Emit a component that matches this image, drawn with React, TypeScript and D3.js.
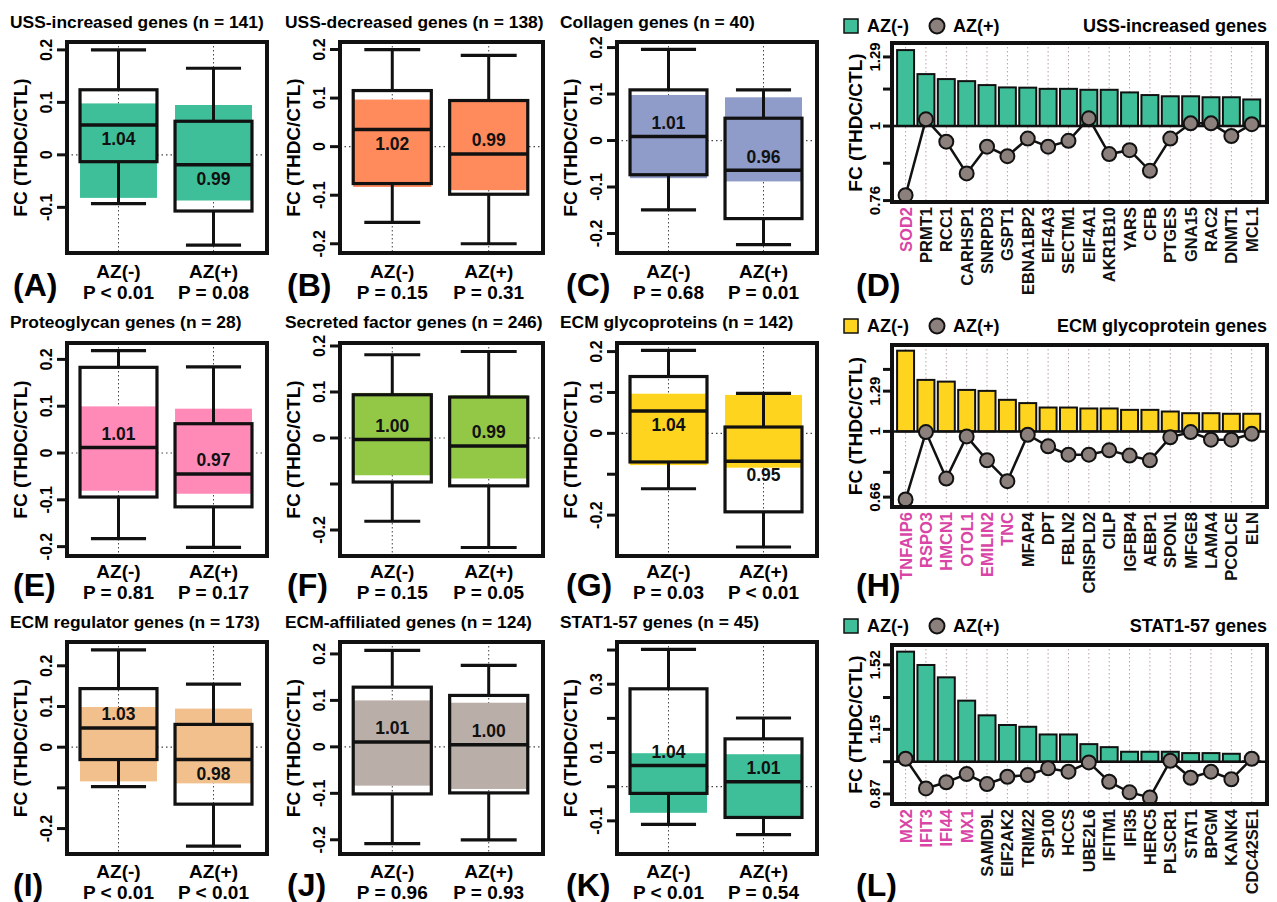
import React from "react";
import * as d3 from "d3";

const FONT = "'Liberation Sans', Arial, Helvetica, sans-serif";
const W = 1277;
const H = 902;

// ---------------- Box-plot panels ----------------
const groupLabels = ["AZ(-)", "AZ(+)"];
const boxLetters = ["A", "B", "C", "E", "F", "G", "I", "J", "K"];
const boxTitles = [
  "USS-increased genes (n = 141)",
  "USS-decreased genes (n = 138)",
  "Collagen genes (n = 40)",
  "Proteoglycan genes (n = 28)",
  "Secreted factor genes (n = 246)",
  "ECM glycoproteins (n = 142)",
  "ECM regulator genes (n = 173)",
  "ECM-affiliated genes (n = 124)",
  "STAT1-57 genes (n = 45)",
];
const boxColors = [
  "#3fbf99", "#ff8a5c", "#8f9bc8",
  "#ff8ab8", "#93c847", "#ffd41e",
  "#f2c08c", "#baaea8", "#3fbf99",
];
const boxYDomains = [
  [-0.187, 0.215], [-0.219, 0.2155], [-0.242, 0.212],
  [-0.22, 0.235], [-0.2565, 0.2065], [-0.3, 0.221],
  [-0.2625, 0.2585], [-0.2306, 0.2257], [-0.197, 0.4235],
];
const boxYTicks = [
  [-0.1, 0, 0.1, 0.2],
  [-0.2, -0.1, 0, 0.1, 0.2],
  [-0.2, -0.1, 0, 0.1, 0.2],
  [-0.2, -0.1, 0, 0.1, 0.2],
  [-0.2, -0.1, 0, 0.1, 0.2],
  [-0.2, -0.1, 0, 0.1, 0.2],
  [-0.2, -0.1, 0, 0.1, 0.2],
  [-0.2, -0.1, 0, 0.1, 0.2],
  [-0.1, 0, 0.1, 0.2, 0.3, 0.4],
];
const boxYTickLabels = [
  ["-0.1", "0", "0.1", "0.2"],
  ["-0.2", "-0.1", "0", "0.1", "0.2"],
  ["-0.2", "-0.1", "0", "0.1", "0.2"],
  ["-0.2", "-0.1", "0", "0.1", "0.2"],
  ["-0.2", "", "0", "0.1", "0.2"],
  ["-0.2", "", "0", "0.1", "0.2"],
  ["-0.2", "", "0", "0.1", "0.2"],
  ["-0.2", "-0.1", "0", "0.1", "0.2"],
  ["-0.1", "", "0.1", "", "0.3", ""],
];
// [lower whisker, Q1, median, Q3, upper whisker]
const statsMinus = [
  [-0.093, -0.013, 0.057, 0.124, 0.2],
  [-0.156, -0.076, 0.0354, 0.1155, 0.2],
  [-0.149, -0.0736, 0.0086, 0.109, 0.196],
  [-0.183, -0.094, 0.012, 0.183, 0.2186],
  [-0.181, -0.0957, -0.0035, 0.094, 0.181],
  [-0.1355, -0.07, 0.0547, 0.139, 0.203],
  [-0.097, -0.0304, 0.047, 0.144, 0.239],
  [-0.2084, -0.1013, 0.0107, 0.1285, 0.2077],
  [-0.11, -0.0196, 0.0618, 0.2865, 0.402],
];
const statsPlus = [
  [-0.172, -0.107, -0.019, 0.064, 0.165],
  [-0.2, -0.098, -0.015, 0.095, 0.188],
  [-0.224, -0.168, -0.064, 0.048, 0.109],
  [-0.2017, -0.115, -0.045, 0.0626, 0.184],
  [-0.238, -0.104, -0.0174, 0.089, 0.188],
  [-0.278, -0.192, -0.068, 0.0155, 0.098],
  [-0.243, -0.14, -0.0304, 0.056, 0.155],
  [-0.2, -0.0991, 0.0043, 0.1107, 0.1756],
  [-0.14, -0.09, 0.0147, 0.14, 0.201],
];
// background (reference) range [low, high]
const shadeMinus = [
  [-0.082, 0.098], [-0.083, 0.097], [-0.081, 0.098],
  [-0.0806, 0.0996], [-0.081, 0.098], [-0.0777, 0.097],
  [-0.084, 0.0988], [-0.0835, 0.1], [-0.0765, 0.098],
];
const shadePlus = [
  [-0.087, 0.095], [-0.0896, 0.095], [-0.088, 0.093],
  [-0.087, 0.0947], [-0.088, 0.093], [-0.084, 0.094],
  [-0.0889, 0.0948], [-0.0906, 0.095], [-0.09, 0.095],
];
const medianFCMinus = ["1.04", "1.02", "1.01", "1.01", "1.00", "1.04", "1.03", "1.01", "1.04"];
const medianFCPlus = ["0.99", "0.99", "0.96", "0.97", "0.99", "0.95", "0.98", "1.00", "1.01"];
const labelSideMinus = [-1, -1, 1, 1, 1, -1, 1, 1, 1];
const labelSidePlus = [-1, 1, 1, 1, 1, -1, -1, 1, 1];
const pMinus = ["P < 0.01", "P = 0.15", "P = 0.68", "P = 0.81", "P = 0.15", "P = 0.03", "P < 0.01", "P = 0.96", "P < 0.01"];
const pPlus = ["P = 0.08", "P = 0.31", "P = 0.01", "P = 0.17", "P = 0.05", "P < 0.01", "P < 0.01", "P = 0.93", "P = 0.54"];

// ---------------- Bar panels ----------------
const barLetters = ["D", "H", "L"];
const barTitles = ["USS-increased genes", "ECM glycoprotein genes", "STAT1-57 genes"];
const barColors = ["#3fbf99", "#ffd41e", "#3fbf99"];
const barYDomains = [[0.756, 1.358], [0.62, 1.727], [0.833, 1.656]];
const barTicks = [
  [0.76, 0.872, 1, 1.146, 1.29],
  [0.66, 0.772, 1, 1.29, 1.48],
  [0.87, 1, 1.15, 1.32, 1.52],
];
const barTickLabels = [
  ["0.76", "", "1", "", "1.29"],
  ["0.66", "", "1", "1.29", ""],
  ["0.87", "", "1.15", "", "1.52"],
];

const genesD = ["SOD2", "PRMT1", "RCC1", "CARHSP1", "SNRPD3", "GSPT1", "EBNA1BP2", "EIF4A3", "SECTM1", "EIF4A1", "AKR1B10", "YARS", "CFB", "PTGES", "GNA15", "RAC2", "DNMT1", "MCL1"];
const fcMinusD = [1.323, 1.211, 1.189, 1.18, 1.163, 1.153, 1.152, 1.147, 1.147, 1.143, 1.143, 1.132, 1.121, 1.116, 1.116, 1.112, 1.112, 1.103];
const fcPlusD = [0.775, 1.025, 0.944, 0.84, 0.927, 0.895, 0.955, 0.927, 0.947, 1.029, 0.902, 0.915, 0.848, 0.955, 1.01, 1.01, 0.964, 1.007];
const highlightD = ["SOD2"];

const genesH = ["TNFAIP6", "RSPO3", "HMCN1", "OTOL1", "EMILIN2", "TNC", "MFAP4", "DPT", "FBLN2", "CRISPLD2", "CILP", "IGFBP4", "AEBP1", "SPON1", "MFGE8", "LAMA4", "PCOLCE", "ELN"];
const fcMinusH = [1.666, 1.385, 1.37, 1.3, 1.292, 1.221, 1.196, 1.163, 1.163, 1.156, 1.156, 1.146, 1.146, 1.134, 1.122, 1.122, 1.118, 1.118];
const fcPlusH = [0.65, 0.996, 0.742, 0.969, 0.833, 0.73, 0.979, 0.91, 0.863, 0.863, 0.887, 0.858, 0.833, 0.963, 0.996, 0.949, 0.949, 0.985];
const highlightH = ["TNFAIP6", "RSPO3", "HMCN1", "OTOL1", "EMILIN2", "TNC"];

const genesL = ["MX2", "IFIT3", "IFI44", "MX1", "SAMD9L", "EIF2AK2", "TRIM22", "SP100", "HCCS", "UBE2L6", "IFITM1", "IFI35", "HERC5", "PLSCR1", "STAT1", "BPGM", "KANK4", "CDC42SE1"];
const fcMinusL = [1.609, 1.519, 1.44, 1.302, 1.222, 1.172, 1.163, 1.125, 1.125, 1.079, 1.065, 1.044, 1.044, 1.044, 1.038, 1.038, 1.035, 1.002];
const fcPlusL = [1.013, 0.891, 0.915, 0.948, 0.908, 0.937, 0.944, 0.972, 0.958, 0.997, 0.917, 0.876, 0.857, 1.004, 0.933, 0.958, 0.927, 1.013];
const highlightL = ["MX2", "IFIT3", "IFI44", "MX1"];

const barGenes = [genesD, genesH, genesL];
const barMinus = [fcMinusD, fcMinusH, fcMinusL];
const barPlus = [fcPlusD, fcPlusH, fcPlusL];
const barHighlight = [highlightD, highlightH, highlightL];

const POINT_FILL = "#8c807d";
const MAGENTA = "#d945a6";
const GRID = "#444";

function BoxPanel({ i }: { i: number }) {
  const c = i % 3;
  const r = Math.floor(i / 3);
  const rowTop = r * 300;
  const colLeft = [0, 275, 550][c];
  const fx = colLeft + [67, 65, 67][c];
  const fw = [200, 203, 200][c];
  const fy = [42, 343, 642][r];
  const fh = [211, 213, 212][r];
  const x = d3.scaleLinear().domain([0.458, 2.563]).range([fx, fx + fw]);
  const y = d3.scaleLinear().domain(boxYDomains[i]).range([fy + fh, fy]);
  const halfBox = 0.405;
  const halfCap = 0.29;
  const color = boxColors[i];
  const stats = [statsMinus[i], statsPlus[i]];
  const shades = [shadeMinus[i], shadePlus[i]];
  const fcs = [medianFCMinus[i], medianFCPlus[i]];
  const sides = [labelSideMinus[i], labelSidePlus[i]];
  const ps = [pMinus[i], pPlus[i]];
  const titleX = colLeft + 10;
  const letterX = colLeft + [13, 12, 16][c];
  return (
    <g>
      <text x={titleX} y={rowTop + 28} fontSize={17.4} fontWeight="bold">
        {boxTitles[i]}
      </text>
      {/* grid */}
      {[1, 2].map((k) => (
        <line key={"v" + k} x1={x(k)} x2={x(k)} y1={fy} y2={fy + fh} stroke={GRID} strokeWidth={1} strokeDasharray="1.5,2.5" />
      ))}
      <line x1={fx} x2={fx + fw} y1={y(0)} y2={y(0)} stroke={GRID} strokeWidth={1.2} strokeDasharray="1.5,3" />
      {/* shaded reference range */}
      {[1, 2].map((k, j) => (
        <rect key={"s" + k} x={x(k - halfBox)} width={x(k + halfBox) - x(k - halfBox)} y={y(shades[j][1])} height={y(shades[j][0]) - y(shades[j][1])} fill={color} />
      ))}
      {/* boxes */}
      {[1, 2].map((k, j) => {
        const [lw, q1, md, q3, uw] = stats[j];
        return (
          <g key={"b" + k} stroke="#111" fill="none">
            <line x1={x(k)} x2={x(k)} y1={y(q3)} y2={y(uw)} strokeWidth={3} />
            <line x1={x(k)} x2={x(k)} y1={y(q1)} y2={y(lw)} strokeWidth={3} />
            <line x1={x(k - halfCap)} x2={x(k + halfCap)} y1={y(uw)} y2={y(uw)} strokeWidth={3.2} />
            <line x1={x(k - halfCap)} x2={x(k + halfCap)} y1={y(lw)} y2={y(lw)} strokeWidth={3.2} />
            <rect x={x(k - halfBox)} width={x(k + halfBox) - x(k - halfBox)} y={y(q3)} height={y(q1) - y(q3)} strokeWidth={3.2} />
            <line x1={x(k - halfBox)} x2={x(k + halfBox)} y1={y(md)} y2={y(md)} strokeWidth={3.5} />
          </g>
        );
      })}
      {[1, 2].map((k, j) => (
        <text key={"m" + k} x={x(k)} y={y(stats[j][2]) - sides[j] * 14} dy="0.36em" textAnchor="middle" fontSize={17.5} fontWeight="bold" fill="#111">
          {fcs[j]}
        </text>
      ))}
      {/* frame */}
      <rect x={fx} y={fy} width={fw} height={fh} fill="none" stroke="#111" strokeWidth={4} />
      {/* y axis */}
      {boxYTicks[i].map((t, ti) => (
        <g key={"t" + ti}>
          <line x1={fx - 10} x2={fx} y1={y(t)} y2={y(t)} stroke="#111" strokeWidth={3} />
          {boxYTickLabels[i][ti] !== "" && (
            <text transform={`translate(${fx - 21},${y(t)}) rotate(-90)`} dy="0.36em" textAnchor="middle" fontSize={16} fontWeight="bold">
              {boxYTickLabels[i][ti]}
            </text>
          )}
        </g>
      ))}
      <text transform={`translate(${fx - 47},${fy + fh / 2}) rotate(-90)`} dy="0.36em" textAnchor="middle" fontSize={19} fontWeight="bold">
        FC (THDC/CTL)
      </text>
      {/* x labels */}
      {[1, 2].map((k, j) => (
        <g key={"x" + k}>
          <text x={x(k)} y={rowTop + 278} textAnchor="middle" fontSize={19} fontWeight="bold">
            {groupLabels[j]}
          </text>
          <text x={x(k)} y={rowTop + 299} textAnchor="middle" fontSize={19} fontWeight="bold">
            {ps[j]}
          </text>
        </g>
      ))}
      <text x={letterX} y={rowTop + 296} fontSize={32} fontWeight="bold">
        ({boxLetters[i]})
      </text>
    </g>
  );
}

function BarPanel({ j }: { j: number }) {
  const rowTop = j * 300;
  const fx = 892;
  const fw = 375;
  const fy = [43, 345, 645][j];
  const fh = [159, 162, 159][j];
  const genes = barGenes[j];
  const x = d3.scaleLinear().domain([-0.1, 22]).range([fx, fx + fw]);
  const y = d3.scaleLog().base(2).domain(barYDomains[j]).range([fy + fh, fy]);
  const centers = genes.map((_, k) => 0.7 + k * 1.2);
  const line = d3
    .line<number>()
    .x((_, k) => x(centers[k]))
    .y((v) => y(v));
  const clipId = "clip-bar-" + j;
  const color = barColors[j];
  return (
    <g>
      <defs>
        <clipPath id={clipId}>
          <rect x={fx} y={fy} width={fw} height={fh} />
        </clipPath>
      </defs>
      {/* legend */}
      <rect x={844} y={rowTop + 19} width={14} height={14} fill={color} stroke="#111" strokeWidth={1.5} />
      <text x={867} y={rowTop + 32} fontSize={18} fontWeight="bold">AZ(-)</text>
      <circle cx={937} cy={rowTop + 26} r={7.5} fill={POINT_FILL} stroke="#111" strokeWidth={2} />
      <text x={953} y={rowTop + 32} fontSize={18} fontWeight="bold">AZ(+)</text>
      <text x={1267} y={rowTop + 32} textAnchor="end" fontSize={18} fontWeight="bold">
        {barTitles[j]}
      </text>
      <g clipPath={`url(#${clipId})`}>
        {centers.map((cx, k) => (
          <line key={"g" + k} x1={x(cx)} x2={x(cx)} y1={fy} y2={fy + fh} stroke="#b9a0a6" strokeWidth={1} strokeDasharray="1.5,2.5" />
        ))}
        {genes.map((g, k) => {
          const v = barMinus[j][k];
          const top = y(Math.max(v, 1));
          const bot = y(Math.min(v, 1));
          return (
            <rect key={"b" + g} x={x(0.2 + k * 1.2)} width={x(1.2 + k * 1.2) - x(0.2 + k * 1.2)} y={top} height={bot - top} fill={color} stroke="#111" strokeWidth={2} />
          );
        })}
        <line x1={fx} x2={fx + fw} y1={y(1)} y2={y(1)} stroke="#111" strokeWidth={2.5} />
        <path d={line(barPlus[j]) || ""} fill="none" stroke="#111" strokeWidth={2.5} />
        {barPlus[j].map((v, k) => (
          <circle key={"p" + k} cx={x(centers[k])} cy={y(v)} r={7} fill={POINT_FILL} stroke="#111" strokeWidth={2} />
        ))}
      </g>
      <rect x={fx} y={fy} width={fw} height={fh} fill="none" stroke="#111" strokeWidth={4} />
      {barTicks[j].map((t, ti) => (
        <g key={"t" + ti}>
          <line x1={fx - 9} x2={fx} y1={y(t)} y2={y(t)} stroke="#111" strokeWidth={3} />
          {barTickLabels[j][ti] !== "" && (
            <text transform={`translate(${fx - 17},${y(t)}) rotate(-90)`} dy="0.36em" textAnchor="middle" fontSize={15} fontWeight="bold">
              {barTickLabels[j][ti]}
            </text>
          )}
        </g>
      ))}
      <text transform={`translate(${fx - 37},${fy + fh / 2}) rotate(-90)`} dy="0.36em" textAnchor="middle" fontSize={19} fontWeight="bold">
        FC (THDC/CTL)
      </text>
      {genes.map((g, k) => (
        <text
          key={"l" + g}
          transform={`translate(${x(centers[k])},${fy + fh + 5}) rotate(-90)`}
          dy="0.36em"
          textAnchor="end"
          fontSize={16.5}
          fontWeight="bold"
          fill={barHighlight[j].includes(g) ? MAGENTA : "#111"}
        >
          {g}
        </text>
      ))}
      <text x={856} y={rowTop + 296} fontSize={32} fontWeight="bold">
        ({barLetters[j]})
      </text>
    </g>
  );
}

export default function App() {
  return (
    <svg
      width={W}
      height={H}
      viewBox={`0 0 ${W} ${H}`}
      style={{ position: "absolute", left: 0, top: 0, background: "#fff" }}
      fontFamily={FONT}
    >
      <rect x={0} y={0} width={W} height={H} fill="#fff" />
      {boxLetters.map((_, i) => (
        <BoxPanel key={i} i={i} />
      ))}
      {barLetters.map((_, j) => (
        <BarPanel key={j} j={j} />
      ))}
    </svg>
  );
}
